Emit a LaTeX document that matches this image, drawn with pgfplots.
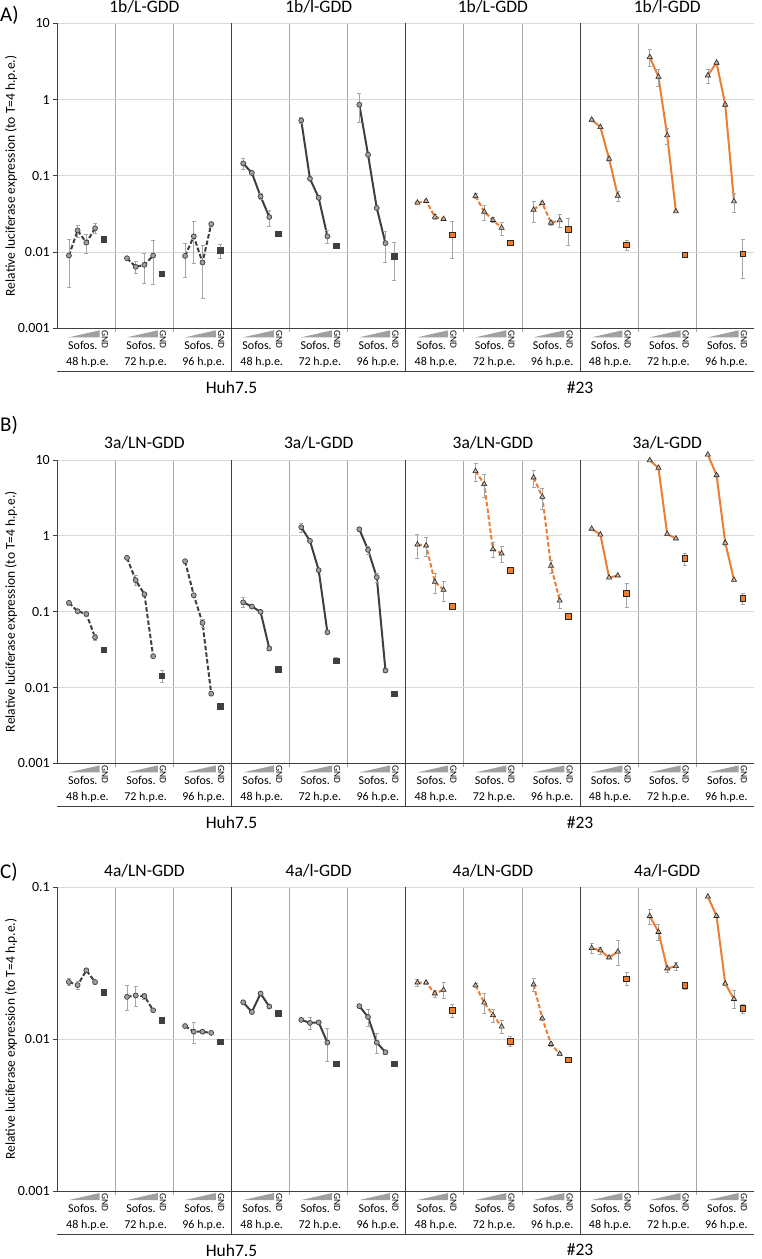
\documentclass[border=0pt]{standalone}
\usepackage{fontspec}
\setmainfont{Carlito}
\usepackage{pgfplots}
\pgfplotsset{compat=1.18}
\definecolor{dk}{HTML}{3F3F3F}
\definecolor{org}{HTML}{ED7D31}
\definecolor{grd}{HTML}{D9D9D9}
\definecolor{sep}{HTML}{A6A6A6}
\definecolor{ebar}{HTML}{A6A6A6}
\definecolor{cfill}{HTML}{A0A0A0}
\definecolor{tfill}{HTML}{C8B4A0}
\definecolor{wg}{HTML}{A0A0A0}
\newcommand{\tickf}{\fontsize{14}{16}\selectfont}
\newcommand{\titf}{\fontsize{17.5}{20}\selectfont}
\newcommand{\lf}{\fontsize{12}{14}\selectfont}
\newcommand{\gndf}{\fontsize{9.5}{11}\selectfont}
\newcommand{\grpf}{\fontsize{17.5}{20}\selectfont}
\newcommand{\letf}{\fontsize{21}{24}\selectfont}
\newcommand{\ylf}{\fontsize{13.5}{15}\selectfont}
\def\cw{58.0833pt}
\pgfplotsset{
  myeb/.style={error bars/y dir=both, error bars/y explicit,
    error bars/error bar style={ebar, line width=0.6pt, solid},
    error bars/error mark options={ebar, rotate=90, mark size=2pt, line width=0.6pt, solid}},
  sHl/.style={color=dk, line width=2pt, solid, mark=*, mark size=2.5pt, mark options={solid, fill=cfill, draw=dk, line width=0.7pt}, myeb},
  sHd/.style={sHl, dash pattern=on 4.5pt off 2.2pt},
  sOl/.style={color=org, line width=2pt, solid, mark=triangle*, mark size=3pt, mark options={solid, fill=tfill, draw=black!85, line width=0.6pt}, myeb},
  sOd/.style={sOl, dash pattern=on 4.5pt off 2.2pt},
  sHg/.style={only marks, mark=square*, mark size=2.8pt, mark options={fill=dk, draw=dk}, myeb},
  sOg/.style={only marks, mark=square*, mark size=2.8pt, mark options={fill=org, draw=black!85, line width=0.6pt}, myeb},
}
\newcommand{\decor}[4]{%
  \draw[dk, line width=1pt] (rel axis cs:0.25,1) -- ([yshift=-43pt]rel axis cs:0.25,0);
  \draw[dk, line width=1pt] (rel axis cs:0.5,1) -- ([yshift=-43pt]rel axis cs:0.5,0);
  \draw[dk, line width=1pt] (rel axis cs:0.75,1) -- ([yshift=-43pt]rel axis cs:0.75,0);
  \draw[dk, line width=1pt] ([yshift=-43pt]rel axis cs:0,0) -- ([yshift=-43pt]rel axis cs:1,0);
  \pgfplotsinvokeforeach{0,1,2,3,4,5,6,7,8,9,10,11}{
    \fill[wg] ([xshift=##1*\cw+0.2*\cw, yshift=-9pt]rel axis cs:0,0) -- ([xshift=##1*\cw+0.73*\cw, yshift=-9pt]rel axis cs:0,0) -- ([xshift=##1*\cw+0.73*\cw, yshift=-2pt]rel axis cs:0,0) -- cycle;
    \node[rotate=-90, anchor=west, font=\gndf, inner sep=0pt] at ([xshift=##1*\cw+0.82*\cw, yshift=-2pt]rel axis cs:0,0) {GND};
    \node[font=\lf, inner sep=0pt] at ([xshift=##1*\cw+0.44*\cw, yshift=-17pt]rel axis cs:0,0) {Sofos.};
  }
  \pgfplotsinvokeforeach{0,3,6,9}{
    \node[font=\lf, inner sep=0pt] at ([xshift=##1*\cw+0.52*\cw, yshift=-34pt]rel axis cs:0,0) {48 h.p.e.};
    \node[font=\lf, inner sep=0pt] at ([xshift=##1*\cw+1.52*\cw, yshift=-34pt]rel axis cs:0,0) {72 h.p.e.};
    \node[font=\lf, inner sep=0pt] at ([xshift=##1*\cw+2.52*\cw, yshift=-34pt]rel axis cs:0,0) {96 h.p.e.};
  }
  \node[font=\grpf] at ([yshift=-59pt]rel axis cs:0.25,0) {Huh7.5};
  \node[font=\grpf] at ([yshift=-59pt]rel axis cs:0.75,0) {\#23};
  \node[font=\titf] at ([yshift=17pt]rel axis cs:0.125,1) {#1};
  \node[font=\titf] at ([yshift=17pt]rel axis cs:0.375,1) {#2};
  \node[font=\titf] at ([yshift=17pt]rel axis cs:0.625,1) {#3};
  \node[font=\titf] at ([yshift=17pt]rel axis cs:0.875,1) {#4};
}
\begin{document}
\begin{tikzpicture}
\useasboundingbox (0pt,0pt) rectangle (762pt,-1259pt);
% ---------------- Panel A ----------------
\begin{axis}[at={(57.3pt,-23.3pt)}, anchor=north west, width=697pt, height=305pt, scale only axis,
  xmin=0, xmax=12, ymode=log, ymin=0.001, ymax=10,
  clip=false, axis x line*=bottom, axis y line*=left, axis line style={dk, line width=1pt},
  xtick={1,2,4,5,7,8,10,11}, xticklabels={}, xmajorgrids, ymajorgrids, yminorticks=false,
  x grid style={sep, line width=0.8pt}, y grid style={grd, line width=0.8pt},
  tick align=outside, major tick length=4pt,
  xtick style={sep, line width=0.8pt}, ytick style={dk, line width=0.8pt},
  yticklabel style={font=\tickf},
  ytick={0.001,0.01,0.1,1,10}, yticklabels={0.001,0.01,0.1,1,10}]
\decor{1b/L-GDD}{1b/l-GDD}{1b/L-GDD}{1b/l-GDD}
\addplot[sHd] coordinates {(0.2,0.0090)+-(0,0.0055) (0.35,0.0192)+-(0,0.0035) (0.5,0.0133)+-(0,0.0037) (0.65,0.0205)+-(0,0.003)};
\addplot[sHd] coordinates {(1.2,0.0083)+-(0,0.0003) (1.35,0.0064)+-(0,0.0012) (1.5,0.0068)+-(0,0.0029) (1.65,0.0090)+-(0,0.0052)};
\addplot[sHd] coordinates {(2.2,0.0089)+-(0,0.0042) (2.35,0.0161)+-(0,0.009) (2.5,0.0073)+-(0,0.0048) (2.65,0.0233)+-(0,0.0015)};
\addplot[sHl] coordinates {(3.2,0.1455)+-(0,0.025) (3.35,0.109)+-(0,0.003) (3.5,0.0537)+-(0,0.005) (3.65,0.0288)+-(0,0.007)};
\addplot[sHl] coordinates {(4.2,0.533)+-(0,0.05) (4.35,0.0916)+-(0,0.002) (4.5,0.0516)+-(0,0.002) (4.65,0.0161)+-(0,0.003)};
\addplot[sHl] coordinates {(5.2,0.856)+-(0,0.35) (5.35,0.189)+-(0,0.005) (5.5,0.0378)+-(0,0.001) (5.65,0.0131)+-(0,0.0057)};
\addplot[sHg] coordinates {(0.8,0.0148)+-(0,0.001) (1.8,0.0052)+-(0,0.0001) (2.8,0.0105)+-(0,0.0023) (3.8,0.0174)+-(0,0.0005) (4.8,0.0121)+-(0,0.0003) (5.8,0.0088)+-(0,0.0046)};
\addplot[sOd] coordinates {(6.2,0.0444)+-(0,0.002) (6.35,0.0467)+-(0,0.002) (6.5,0.029)+-(0,0.002) (6.65,0.0271)+-(0,0.001)};
\addplot[sOd] coordinates {(7.2,0.0542)+-(0,0.004) (7.35,0.0338)+-(0,0.0078) (7.5,0.0263)+-(0,0.002) (7.65,0.0208)+-(0,0.004)};
\addplot[sOd] coordinates {(8.2,0.0359)+-(0,0.011) (8.35,0.0439)+-(0,0.002) (8.5,0.0242)+-(0,0.002) (8.65,0.026)+-(0,0.005)};
\addplot[sOl] coordinates {(9.2,0.544)+-(0,0.02) (9.35,0.436)+-(0,0.02) (9.5,0.167)+-(0,0.01) (9.65,0.0548)+-(0,0.008)};
\addplot[sOl] coordinates {(10.2,3.61)+-(0,0.9) (10.35,1.99)+-(0,0.5) (10.5,0.339)+-(0,0.08) (10.65,0.0341)+-(0,0.001)};
\addplot[sOl] coordinates {(11.2,2.07)+-(0,0.45) (11.35,3.04)+-(0,0.1) (11.5,0.856)+-(0,0.03) (11.65,0.0462)+-(0,0.013)};
\addplot[sOg] coordinates {(6.8,0.0169)+-(0,0.0085) (7.8,0.0133)+-(0,0.0005) (8.8,0.0198)+-(0,0.0076) (9.8,0.0125)+-(0,0.0018) (10.8,0.0092)+-(0,0.0003) (11.8,0.0095)+-(0,0.005)};
\end{axis}
% ---------------- Panel B ----------------
\begin{axis}[at={(57.3pt,-460pt)}, anchor=north west, width=697pt, height=303.4pt, scale only axis,
  xmin=0, xmax=12, ymode=log, ymin=0.001, ymax=10,
  clip=false, axis x line*=bottom, axis y line*=left, axis line style={dk, line width=1pt},
  xtick={1,2,4,5,7,8,10,11}, xticklabels={}, xmajorgrids, ymajorgrids, yminorticks=false,
  x grid style={sep, line width=0.8pt}, y grid style={grd, line width=0.8pt},
  tick align=outside, major tick length=4pt,
  xtick style={sep, line width=0.8pt}, ytick style={dk, line width=0.8pt},
  yticklabel style={font=\tickf},
  ytick={0.001,0.01,0.1,1,10}, yticklabels={0.001,0.01,0.1,1,10}]
\decor{3a/LN-GDD}{3a/L-GDD}{3a/LN-GDD}{3a/L-GDD}
\addplot[sHd] coordinates {(0.2,0.131)+-(0,0.008) (0.35,0.1015)+-(0,0.004) (0.5,0.0936)+-(0,0.006) (0.65,0.046)+-(0,0.004)};
\addplot[sHd] coordinates {(1.2,0.513)+-(0,0.02) (1.35,0.26)+-(0,0.04) (1.5,0.17)+-(0,0.01) (1.65,0.0259)+-(0,0.001)};
\addplot[sHd] coordinates {(2.2,0.463)+-(0,0.03) (2.35,0.165)+-(0,0.005) (2.5,0.0712)+-(0,0.008) (2.65,0.0083)+-(0,0.0005)};
\addplot[sHl] coordinates {(3.2,0.133)+-(0,0.02) (3.35,0.117)+-(0,0.005) (3.5,0.0995)+-(0,0.003) (3.65,0.0327)+-(0,0.002)};
\addplot[sHl] coordinates {(4.2,1.30)+-(0,0.17) (4.35,0.859)+-(0,0.03) (4.5,0.353)+-(0,0.01) (4.65,0.0537)+-(0,0.002)};
\addplot[sHl] coordinates {(5.2,1.22)+-(0,0.03) (5.35,0.654)+-(0,0.08) (5.5,0.285)+-(0,0.04) (5.65,0.0168)+-(0,0.001)};
\addplot[sHg] coordinates {(0.8,0.0317)+-(0,0.002) (1.8,0.0144)+-(0,0.0025) (2.8,0.0057)+-(0,0.0002) (3.8,0.0176)+-(0,0.001) (4.8,0.0227)+-(0,0.002) (5.8,0.0083)+-(0,0.0003)};
\addplot[sOd] coordinates {(6.2,0.769)+-(0,0.27) (6.35,0.746)+-(0,0.21) (6.5,0.247)+-(0,0.07) (6.65,0.194)+-(0,0.058)};
\addplot[sOd] coordinates {(7.2,7.13)+-(0,1.9) (7.35,4.80)+-(0,1.6) (7.5,0.667)+-(0,0.15) (7.65,0.585)+-(0,0.14)};
\addplot[sOd] coordinates {(8.2,5.88)+-(0,1.5) (8.35,3.27)+-(0,1.0) (8.5,0.402)+-(0,0.08) (8.65,0.140)+-(0,0.03)};
\addplot[sOl] coordinates {(9.2,1.24)+-(0,0.02) (9.35,1.04)+-(0,0.02) (9.5,0.282)+-(0,0.005) (9.65,0.300)+-(0,0.005)};
\addplot[sOl] coordinates {(10.2,9.9)+-(0,0.2) (10.35,7.88)+-(0,0.2) (10.5,1.06)+-(0,0.03) (10.65,0.922)+-(0,0.03)};
\addplot[sOl] coordinates {(11.2,11.8)+-(0,0.2) (11.35,6.30)+-(0,0.2) (11.5,0.809)+-(0,0.05) (11.65,0.263)+-(0,0.005)};
\addplot[sOg] coordinates {(6.8,0.117)+-(0,0.005) (7.8,0.353)+-(0,0.02) (8.8,0.0872)+-(0,0.004) (9.8,0.174)+-(0,0.06) (10.8,0.502)+-(0,0.09) (11.8,0.149)+-(0,0.025)};
\end{axis}
% ---------------- Panel C ----------------
\begin{axis}[at={(57.3pt,-887.3pt)}, anchor=north west, width=697pt, height=303.7pt, scale only axis,
  xmin=0, xmax=12, ymode=log, ymin=0.001, ymax=0.1,
  clip=false, axis x line*=bottom, axis y line*=left, axis line style={dk, line width=1pt},
  xtick={1,2,4,5,7,8,10,11}, xticklabels={}, xmajorgrids, ymajorgrids, yminorticks=false,
  x grid style={sep, line width=0.8pt}, y grid style={grd, line width=0.8pt},
  tick align=outside, major tick length=4pt,
  xtick style={sep, line width=0.8pt}, ytick style={dk, line width=0.8pt},
  yticklabel style={font=\tickf},
  ytick={0.001,0.01,0.1}, yticklabels={0.001,0.01,0.1}]
\decor{4a/LN-GDD}{4a/l-GDD}{4a/LN-GDD}{4a/l-GDD}
\addplot[sHd] coordinates {(0.2,0.0238)+-(0,0.0012) (0.35,0.0227)+-(0,0.0015) (0.5,0.0284)+-(0,0.0005) (0.65,0.0238)+-(0,0.0008)};
\addplot[sHd] coordinates {(1.2,0.0190)+-(0,0.0036) (1.35,0.0194)+-(0,0.003) (1.5,0.0192)+-(0,0.001) (1.65,0.0155)+-(0,0.0003)};
\addplot[sHd] coordinates {(2.2,0.0122)+-(0,0.0003) (2.35,0.0112)+-(0,0.0018) (2.5,0.0112)+-(0,0.0003) (2.65,0.0110)+-(0,0.0002)};
\addplot[sHl] coordinates {(3.2,0.0175)+-(0,0.0002) (3.35,0.0151)+-(0,0.0002) (3.5,0.0200)+-(0,0.0002) (3.65,0.0164)+-(0,0.0002)};
\addplot[sHl] coordinates {(4.2,0.0134)+-(0,0.0003) (4.35,0.0128)+-(0,0.0012) (4.5,0.0129)+-(0,0.0003) (4.65,0.0095)+-(0,0.0023)};
\addplot[sHl] coordinates {(5.2,0.0165)+-(0,0.0003) (5.35,0.0140)+-(0,0.0018) (5.5,0.0095)+-(0,0.0014) (5.65,0.0082)+-(0,0.0003)};
\addplot[sHg] coordinates {(0.8,0.0204)+-(0,0.0004) (1.8,0.0133)+-(0,0.0003) (2.8,0.0096)+-(0,0.0004) (3.8,0.0148)+-(0,0.0002) (4.8,0.0069)+-(0,0.0002) (5.8,0.0069)+-(0,0.0002)};
\addplot[sOd] coordinates {(6.2,0.0236)+-(0,0.0012) (6.35,0.0236)+-(0,0.0005) (6.5,0.0200)+-(0,0.001) (6.65,0.0211)+-(0,0.0025)};
\addplot[sOd] coordinates {(7.2,0.0226)+-(0,0.0008) (7.35,0.0174)+-(0,0.0027) (7.5,0.0144)+-(0,0.0014) (7.65,0.0121)+-(0,0.0012)};
\addplot[sOd] coordinates {(8.2,0.0229)+-(0,0.0022) (8.35,0.0137)+-(0,0.0003) (8.5,0.0093)+-(0,0.0003) (8.65,0.0080)+-(0,0.0002)};
\addplot[sOl] coordinates {(9.2,0.0398)+-(0,0.003) (9.35,0.0384)+-(0,0.002) (9.5,0.0345)+-(0,0.0005) (9.65,0.0377)+-(0,0.007)};
\addplot[sOl] coordinates {(10.2,0.0647)+-(0,0.0075) (10.35,0.0508)+-(0,0.006) (10.5,0.0292)+-(0,0.0015) (10.65,0.0303)+-(0,0.002)};
\addplot[sOl] coordinates {(11.2,0.0868)+-(0,0.001) (11.35,0.0647)+-(0,0.001) (11.5,0.0232)+-(0,0.0005) (11.65,0.0184)+-(0,0.0025)};
\addplot[sOg] coordinates {(6.8,0.0155)+-(0,0.0015) (7.8,0.0097)+-(0,0.0007) (8.8,0.0073)+-(0,0.0002) (9.8,0.0250)+-(0,0.0025) (10.8,0.0226)+-(0,0.0012) (11.8,0.0159)+-(0,0.001)};
\end{axis}
% ---------------- panel letters and y labels ----------------
\node[font=\letf, anchor=west, inner sep=0pt] at (0pt,-15pt) {A)};
\node[font=\letf, anchor=west, inner sep=0pt] at (0pt,-425pt) {B)};
\node[font=\letf, anchor=west, inner sep=0pt] at (0pt,-872pt) {C)};
\node[font=\ylf, rotate=90] at (11pt,-175.8pt) {Relative luciferase expression (to T=4 h.p.e.)};
\node[font=\ylf, rotate=90] at (11pt,-611.7pt) {Relative luciferase expression (to T=4 h.p.e.)};
\node[font=\ylf, rotate=90] at (11pt,-1039pt) {Relative luciferase expression (to T=4 h.p.e.)};
\end{tikzpicture}
\end{document}
